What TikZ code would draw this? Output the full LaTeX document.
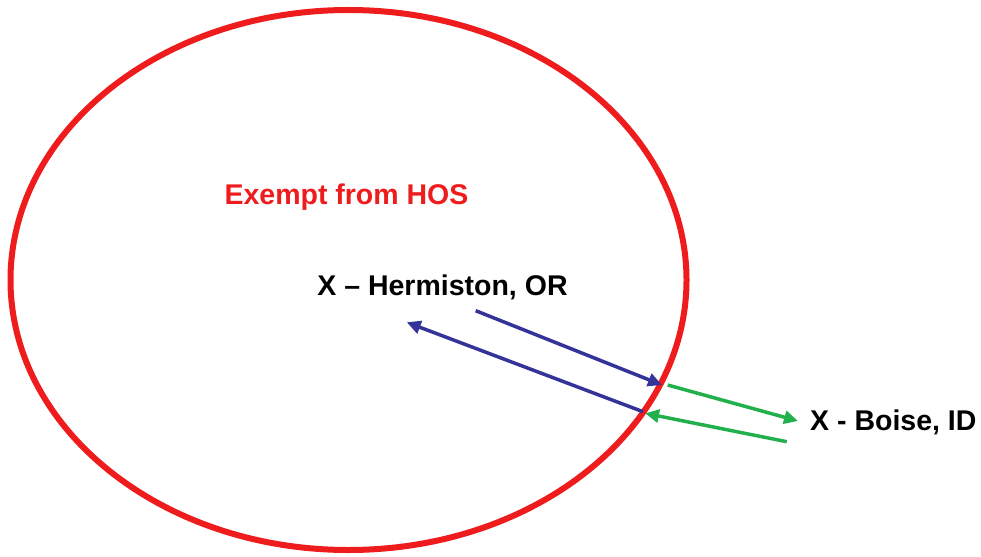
\documentclass[tikz,border=0pt]{standalone}
\usepackage{fontspec}
\setmainfont{Liberation Sans}
\usetikzlibrary{arrows.meta}
\definecolor{ringred}{HTML}{EE1C1C}
\definecolor{flowblue}{HTML}{333399}
\definecolor{flowgreen}{HTML}{22B04C}
\begin{document}
\begin{tikzpicture}[x=1pt,y=-1pt,
  lbl/.style={font=\bfseries\fontsize{28.5}{32}\selectfont, inner sep=0pt},
  flow/.style={line width=3.5pt, -{Triangle[length=14pt,width=13pt]}}]
\useasboundingbox (0,0) rectangle (981,556);
\draw[ringred, line width=6pt] (348.5,280) ellipse [x radius=338, y radius=270];
\node[lbl, text=ringred] (exempt) at (346.5,197) {Exempt from HOS};
\node[lbl] (herm) at (442.5,287) {X – Hermiston, OR};
\node[lbl, anchor=west] (boise) at (810,422) {X - Boise, ID};
\coordinate (b1s) at (475.7,310.7);
\coordinate (b1e) at (662,385);
\coordinate (b2s) at (643,411.7);
\coordinate (b2e) at (406.7,322.3);
\coordinate (g1s) at (667.7,385);
\coordinate (g1e) at (798,421);
\coordinate (g2s) at (786.7,441.7);
\coordinate (g2e) at (645,413.3);
\draw[flow, flowblue] (b1s) -- (b1e);
\draw[flow, flowblue] (b2s) -- (b2e);
\draw[flow, flowgreen] (g1s) -- (g1e);
\draw[flow, flowgreen] (g2s) -- (g2e);
\end{tikzpicture}
\end{document}
